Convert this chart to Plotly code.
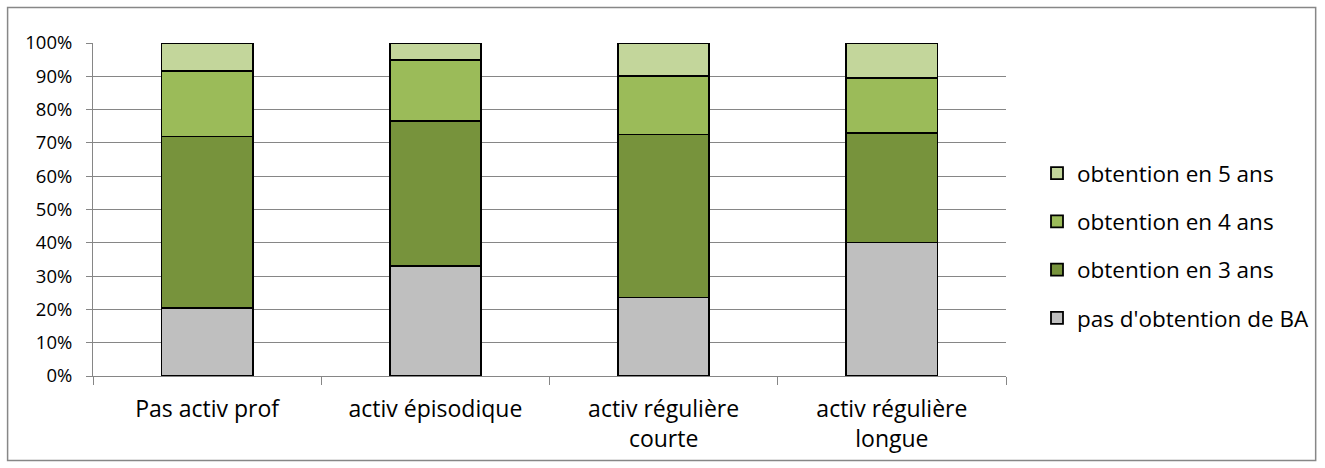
import plotly.graph_objects as go

# Share of students by time taken to obtain the BA, per type of professional activity
categories = ["Pas activ prof", "activ épisodique", "activ régulière<br>courte", "activ régulière<br>longue"]
pas_obtention = [20.5, 33.0, 23.6, 40.1]
obtention_3_ans = [51.4, 43.6, 48.9, 32.8]
obtention_4_ans = [19.8, 18.2, 17.6, 16.5]
obtention_5_ans = [8.3, 5.2, 9.9, 10.6]
y_ticks = [0, 10, 20, 30, 40, 50, 60, 70, 80, 90, 100]
y_tick_labels = [f"{v}%" for v in y_ticks]

series = [
    ("pas d'obtention de BA", pas_obtention, "#BFBFBF"),
    ("obtention en 3 ans", obtention_3_ans, "#77933C"),
    ("obtention en 4 ans", obtention_4_ans, "#9BBB59"),
    ("obtention en 5 ans", obtention_5_ans, "#C3D69B"),
]

FONT = "Open Sans, Liberation Sans, sans-serif"
W, H = 1325, 468
L, R, T, B = 93, 318, 43, 92

fig = go.Figure()
for i, (name, vals, color) in enumerate(series):
    fig.add_trace(go.Bar(
        x=categories, y=vals, name=name, legendgroup=name,
        legendrank=1000 - i,
        marker=dict(color=color, line=dict(color="#000000", width=1.8)),
    ))

pw = W - L - R
ph = H - T - B

fig.update_layout(
    width=W, height=H,
    margin=dict(l=L, r=R, t=T, b=B),
    barmode="stack",
    bargap=0.6,
    plot_bgcolor="white",
    paper_bgcolor="white",
    font=dict(family=FONT, color="#000000"),
    showlegend=True,
    legend=dict(
        traceorder="grouped",
        x=(1037 - L) / pw, xanchor="left",
        y=0.5 - 36 / ph, yanchor="middle",
        font=dict(size=22.5, family=FONT),
        tracegroupgap=16,
        bgcolor="rgba(0,0,0,0)",
    ),
    xaxis=dict(
        showline=True, linecolor="#868686", linewidth=1,
        ticks="outside", tickson="boundaries", ticklen=8, tickcolor="#868686",
        tickfont=dict(size=23, family=FONT),
        ticklabelstandoff=12,
        showgrid=False,
    ),
    yaxis=dict(
        range=[0, 100],
        tickvals=y_ticks, ticktext=y_tick_labels,
        showline=True, linecolor="#868686", linewidth=1,
        ticks="outside", ticklen=6, tickcolor="#868686",
        tickfont=dict(size=18.5, family=FONT),
        ticklabelstandoff=10,
        showgrid=True, gridcolor="#868686", gridwidth=1,
        zeroline=False,
    ),
    shapes=[dict(
        type="rect", xref="paper", yref="paper",
        x0=(7.5 - L) / pw, x1=(W - 8 - L) / pw,
        y0=((H - B) - (H - 7.5)) / ph,
        y1=((H - B) - 7.5) / ph,
        line=dict(color="#878787", width=1.5), fillcolor="rgba(0,0,0,0)",
        layer="below",
    )],
)

fig.write_html("out.html")
